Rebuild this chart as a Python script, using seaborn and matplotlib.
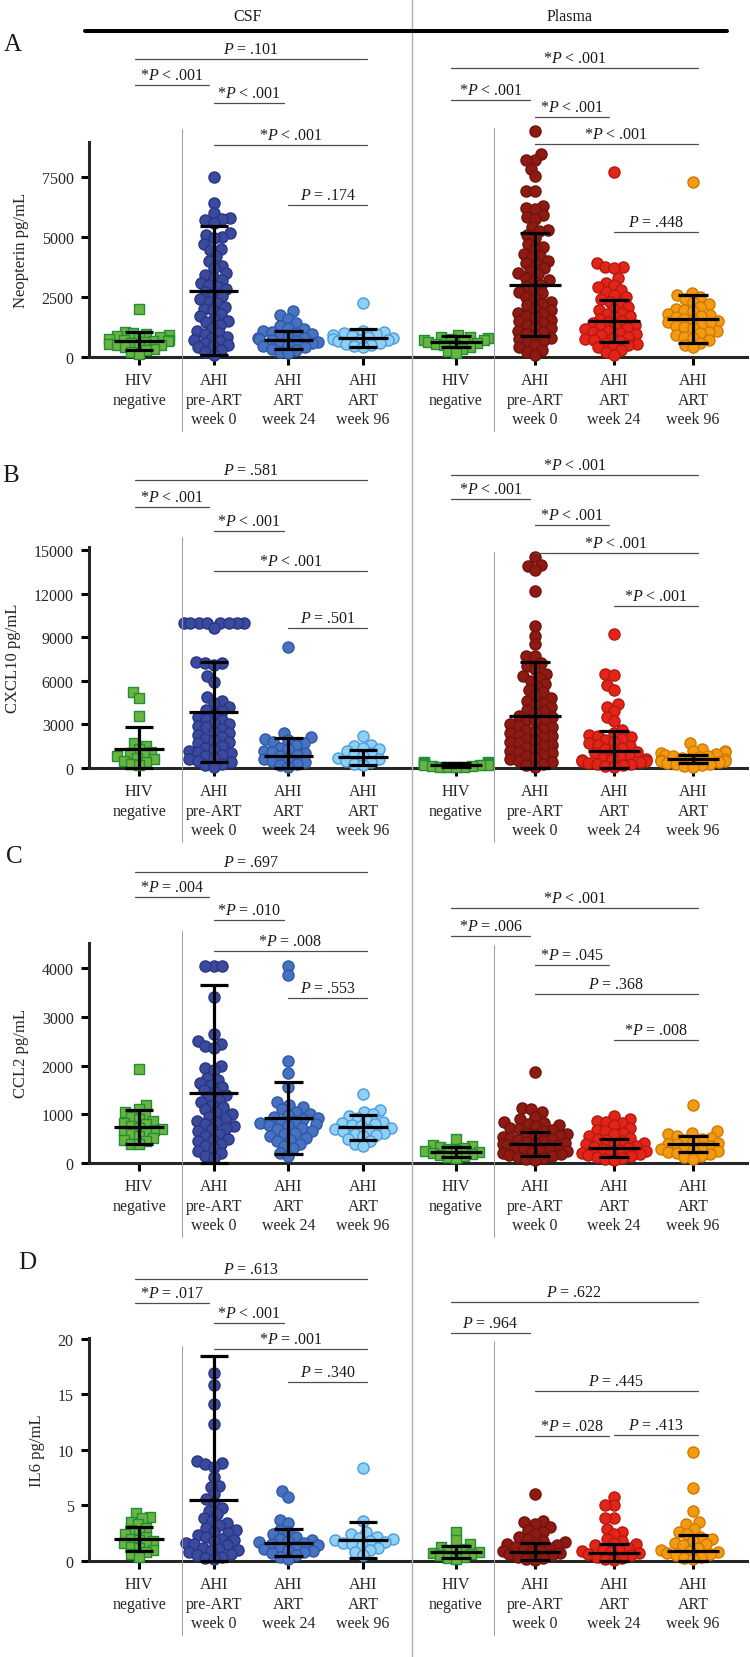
import numpy as np
import pandas as pd
import seaborn as sns
import matplotlib.pyplot as plt
from matplotlib import transforms
from matplotlib.lines import Line2D

# ---- categories / labels ----
cats = ["HIV\nnegative", "AHI\npre-ART\nweek 0", "AHI\nART\nweek 24", "AHI\nART\nweek 96"]
panels = ["CSF", "Plasma"]

# ---- A: Neopterin pg/mL ----
csf_neg_A = [2000, 1050, 1000, 950, 900, 870, 820, 800, 760, 720, 700, 680, 650, 620, 600, 560, 520, 480, 450, 400, 350, 300, 220, 120]
csf_pre_A = [7500, 6400, 6000, 5800, 5750, 5700, 5600, 5150, 5100, 5000, 4950, 4700, 4500, 4450, 4200, 4000, 3800, 3700, 3500,
             3400, 3300, 3200, 3100, 3000, 2900, 2850, 2700, 2600, 2550, 2400, 2300, 2250, 2100, 2000, 1950, 1800, 1700, 1600,
             1500, 1450, 1350, 1200, 1100, 1000, 950, 850, 800, 700, 650, 600, 500, 450, 400, 300, 200, 100]
csf_24_A = [1900, 1750, 1600, 1400, 1300, 1200, 1150, 1100, 1050, 1000, 950, 900, 850, 800, 780, 750, 700, 650, 620, 600,
            550, 500, 450, 400, 350, 300, 200, 150]
csf_96_A = [2250, 1100, 1050, 1000, 950, 900, 870, 820, 800, 760, 720, 700, 650, 600, 550, 500, 450, 400]
pla_neg_A = [900, 850, 820, 800, 760, 720, 700, 660, 640, 600, 560, 520, 480, 420, 350, 250, 150]
pla_pre_A = [9400, 8450, 8200, 8200, 7850, 7550, 6900, 6900, 6300, 6200, 6150, 5900, 5850, 5750, 5400, 5300, 5250, 5100,
             4950, 4700, 4600, 4500, 4300, 4200, 4150, 4000, 3900, 3850, 3700, 3600, 3500, 3450, 3300, 3200, 3150, 3000,
             2950, 2800, 2700, 2650, 2500, 2450, 2300, 2200, 2150, 2000, 1950, 1850, 1800, 1700, 1650, 1550, 1500, 1400,
             1350, 1250, 1200, 1100, 1050, 950, 900, 800, 750, 650, 600, 500, 400, 300, 200, 100]
pla_24_A = [7700, 3900, 3750, 3750, 3700, 3300, 3100, 3000, 2900, 2800, 2700, 2600, 2500, 2400, 2300, 2250, 2100, 2000,
            1950, 1850, 1800, 1700, 1650, 1600, 1500, 1450, 1400, 1350, 1300, 1250, 1200, 1150, 1100, 1050, 1000, 950,
            900, 850, 800, 750, 700, 650, 600, 550, 500, 450, 400, 300, 200, 100]
pla_96_A = [7300, 2650, 2600, 2500, 2400, 2300, 2200, 2100, 2000, 1950, 1900, 1800, 1750, 1700, 1650, 1600, 1550, 1500,
            1450, 1400, 1350, 1300, 1250, 1200, 1100, 1050, 1000, 900, 850, 800, 700, 600, 500, 400]
mean_csf_A = [670, 2770, 700, 790]
sd_csf_A = [370, 2690, 370, 380]
mean_pla_A = [640, 3020, 1500, 1580]
sd_pla_A = [220, 2150, 870, 1000]

# ---- B: CXCL10 pg/mL ----
csf_neg_B = [5200, 4850, 3600, 1700, 1500, 1300, 1100, 1000, 900, 800, 700, 600, 500, 400, 300, 200]
csf_pre_B = [10000, 10000, 10000, 10000, 10000, 10000, 10000, 10000, 9600, 7300, 7200, 7200, 7100, 6300, 5900, 4900,
             4600, 4500, 4200, 4000, 3900, 3700, 3500, 3400, 3300, 3100, 3000, 2900, 2800, 2700, 2500, 2400, 2300, 2100,
             2000, 1900, 1800, 1700, 1500, 1400, 1300, 1200, 1100, 1000, 900, 800, 700, 600, 500, 400, 300, 200, 100]
csf_24_B = [8300, 2400, 2100, 2000, 1900, 1800, 1700, 1600, 1400, 1300, 1200, 1100, 1000, 900, 800, 700, 600, 500, 400,
            300, 200, 100]
csf_96_B = [2200, 1600, 1500, 1400, 1300, 1200, 1000, 900, 800, 700, 600, 500, 400, 300, 200]
pla_neg_B = [420, 380, 350, 320, 300, 280, 250, 220, 200, 180, 150, 120, 100, 80, 60, 40]
pla_pre_B = [14500, 14000, 13900, 13600, 12200, 9800, 9100, 8500, 7700, 7700, 7200, 7000, 6800, 6500, 6300, 6200, 6000,
             5800, 5600, 5400, 5200, 5000, 4800, 4600, 4500, 4400, 4200, 4000, 3900, 3800, 3600, 3500, 3400, 3300, 3200,
             3000, 2900, 2800, 2700, 2600, 2500, 2400, 2300, 2200, 2100, 2000, 1900, 1800, 1700, 1600, 1500, 1400, 1300,
             1200, 1100, 1000, 900, 800, 700, 600, 500, 400, 300, 200, 100]
pla_24_B = [9200, 6450, 6400, 5700, 5400, 4400, 4200, 3900, 3500, 3200, 2600, 2400, 2300, 2200, 2100, 2000, 1900, 1800,
            1700, 1600, 1500, 1400, 1300, 1200, 1100, 1000, 900, 800, 700, 650, 600, 550, 500, 450, 400, 350, 300, 250,
            200, 150, 100]
pla_96_B = [1750, 1300, 1200, 1150, 1100, 1000, 950, 900, 850, 800, 750, 700, 650, 600, 550, 500, 450, 400, 350, 300,
            250, 200, 150, 100]
mean_csf_B = [1300, 3850, 830, 740]
sd_csf_B = [1520, 3440, 1230, 500]
mean_pla_B = [220, 3580, 1170, 620]
sd_pla_B = [120, 3700, 1380, 280]

# ---- C: CCL2 pg/mL ----
csf_neg_C = [1920, 1180, 1100, 1050, 1000, 950, 900, 870, 830, 800, 760, 720, 700, 680, 650, 620, 600, 560, 520, 480,
             450, 400, 380]
csf_pre_C = [4050, 4050, 4050, 3400, 2650, 2500, 2450, 2400, 2350, 2000, 1950, 1900, 1750, 1700, 1650, 1600, 1550, 1500,
             1450, 1400, 1350, 1300, 1250, 1200, 1150, 1100, 1050, 1000, 950, 900, 870, 850, 800, 750, 720, 700, 650,
             600, 550, 500, 480, 450, 400, 350, 300, 250, 200, 150, 100]
csf_24_C = [4050, 3850, 2100, 1850, 1550, 1250, 1200, 1150, 1100, 1050, 1000, 980, 950, 920, 900, 870, 850, 820, 800,
            780, 750, 720, 700, 650, 620, 600, 560, 520, 480, 450, 400, 350, 300, 200, 150]
csf_96_C = [1420, 1080, 1050, 1000, 960, 920, 880, 850, 820, 800, 780, 750, 720, 700, 680, 650, 620, 600, 580, 550,
            500, 450, 400, 350]
pla_neg_C = [500, 360, 340, 320, 300, 280, 260, 240, 220, 200, 180, 160, 140, 120, 100]
pla_pre_C = [1860, 1120, 1100, 1050, 950, 900, 850, 820, 800, 780, 750, 720, 700, 680, 650, 620, 600, 580, 560, 540,
             520, 500, 480, 460, 440, 420, 400, 380, 360, 340, 320, 300, 280, 260, 240, 220, 200, 180, 160, 140, 120,
             100, 80, 60]
pla_24_C = [960, 900, 860, 850, 820, 780, 720, 680, 650, 620, 600, 560, 520, 500, 480, 450, 420, 400, 380, 350, 330,
            300, 280, 260, 240, 220, 200, 180, 160, 140, 120, 100, 80, 60]
pla_96_C = [1200, 650, 620, 600, 560, 520, 500, 480, 450, 420, 400, 380, 350, 330, 300, 280, 260, 240, 220, 200, 180,
            150, 120, 80]
mean_csf_C = [730, 1430, 920, 730]
sd_csf_C = [350, 2230, 740, 260]
mean_pla_C = [230, 390, 310, 390]
sd_pla_C = [100, 250, 180, 160]

# ---- D: IL6 pg/mL ----
csf_neg_D = [4.3, 4.0, 3.9, 3.5, 3.3, 3.0, 2.8, 2.6, 2.4, 2.2, 2.0, 1.9, 1.8, 1.6, 1.5, 1.3, 1.2, 1.0, 0.8, 0.6, 0.4]
csf_pre_D = [16.9, 15.9, 14.1, 12.3, 9.0, 8.8, 8.7, 8.5, 7.6, 6.8, 6.7, 6.0, 5.6, 5.2, 4.8, 4.5, 4.2, 3.9, 3.6, 3.4,
             3.2, 3.0, 2.8, 2.6, 2.5, 2.3, 2.2, 2.0, 1.9, 1.8, 1.6, 1.5, 1.4, 1.2, 1.1, 1.0, 0.9, 0.8, 0.6, 0.5, 0.4,
             0.3, 0.2]
csf_24_D = [6.3, 5.8, 3.7, 3.4, 2.8, 2.6, 2.4, 2.2, 2.0, 1.9, 1.8, 1.7, 1.6, 1.5, 1.4, 1.3, 1.2, 1.1, 1.0, 0.9, 0.8,
            0.7, 0.5, 0.4, 0.2]
csf_96_D = [8.4, 3.6, 2.6, 2.4, 2.2, 2.1, 2.0, 1.9, 1.8, 1.7, 1.6, 1.5, 1.4, 1.2, 1.0, 0.8, 0.5]
pla_neg_D = [2.6, 1.9, 1.5, 1.3, 1.1, 1.0, 0.9, 0.8, 0.7, 0.6, 0.5, 0.4, 0.3, 0.2]
pla_pre_D = [6.0, 3.6, 3.5, 3.3, 3.1, 2.8, 2.6, 2.4, 2.2, 2.0, 1.8, 1.7, 1.6, 1.5, 1.4, 1.3, 1.2, 1.1, 1.0, 0.9, 0.8,
             0.7, 0.6, 0.5, 0.4, 0.3, 0.2, 0.1]
pla_24_D = [5.8, 5.0, 5.0, 3.9, 3.9, 2.9, 2.6, 2.4, 2.0, 1.8, 1.6, 1.5, 1.4, 1.2, 1.1, 1.0, 0.9, 0.8, 0.7, 0.6, 0.5,
            0.4, 0.3, 0.2, 0.1]
pla_96_D = [9.8, 6.6, 4.5, 3.5, 3.3, 2.9, 2.6, 2.4, 2.2, 2.0, 1.8, 1.6, 1.5, 1.4, 1.2, 1.0, 0.9, 0.8, 0.7, 0.6, 0.5,
            0.4, 0.3, 0.2]
mean_csf_D = [2.0, 5.5, 1.65, 1.9]
sd_csf_D = [1.1, 13.0, 1.2, 1.6]
mean_pla_D = [0.8, 0.85, 0.75, 0.9]
sd_pla_D = [0.55, 0.75, 0.8, 1.45]

# ---- P values (pair, label) ----
pv_csf_A = [(0, 3, "P = .101"), (0, 1, "*P < .001"), (1, 2, "*P < .001"), (1, 3, "*P < .001"), (2, 3, "P = .174")]
pv_pla_A = [(0, 3, "*P < .001"), (0, 1, "*P < .001"), (1, 2, "*P < .001"), (1, 3, "*P < .001"), (2, 3, "P = .448")]
pv_csf_B = [(0, 3, "P = .581"), (0, 1, "*P < .001"), (1, 2, "*P < .001"), (1, 3, "*P < .001"), (2, 3, "P = .501")]
pv_pla_B = [(0, 3, "*P < .001"), (0, 1, "*P < .001"), (1, 2, "*P < .001"), (1, 3, "*P < .001"), (2, 3, "*P < .001")]
pv_csf_C = [(0, 3, "P = .697"), (0, 1, "*P = .004"), (1, 2, "*P = .010"), (1, 3, "*P = .008"), (2, 3, "P = .553")]
pv_pla_C = [(0, 3, "*P < .001"), (0, 1, "*P = .006"), (1, 2, "*P = .045"), (1, 3, "P = .368"), (2, 3, "*P = .008")]
pv_csf_D = [(0, 3, "P = .613"), (0, 1, "*P = .017"), (1, 2, "*P < .001"), (1, 3, "*P = .001"), (2, 3, "P = .340")]
pv_pla_D = [(0, 3, "P = .622"), (0, 1, "P = .964"), (1, 3, "P = .445"), (1, 2, "*P = .028"), (2, 3, "P = .413")]

# ---- colours ----
fills = {"CSF": ["#6cb33f", "#3a4a9c", "#4672c0", "#8fd0f5"],
         "Plasma": ["#6cb33f", "#8e1a12", "#e32418", "#f39a10"]}
edges = {"CSF": ["#1f8f3a", "#2b3585", "#2f58a8", "#4a9be0"],
         "Plasma": ["#1f8f3a", "#6e140e", "#b51a10", "#d07a05"]}

rows = [
    dict(letter="A", ylabel="Neopterin pg/mL", ticks=[0, 2500, 5000, 7500],
         CSF=(csf_neg_A, csf_pre_A, csf_24_A, csf_96_A, mean_csf_A, sd_csf_A, pv_csf_A),
         Plasma=(pla_neg_A, pla_pre_A, pla_24_A, pla_96_A, mean_pla_A, sd_pla_A, pv_pla_A)),
    dict(letter="B", ylabel="CXCL10 pg/mL", ticks=[0, 3000, 6000, 9000, 12000, 15000],
         CSF=(csf_neg_B, csf_pre_B, csf_24_B, csf_96_B, mean_csf_B, sd_csf_B, pv_csf_B),
         Plasma=(pla_neg_B, pla_pre_B, pla_24_B, pla_96_B, mean_pla_B, sd_pla_B, pv_pla_B)),
    dict(letter="C", ylabel="CCL2 pg/mL", ticks=[0, 1000, 2000, 3000, 4000],
         CSF=(csf_neg_C, csf_pre_C, csf_24_C, csf_96_C, mean_csf_C, sd_csf_C, pv_csf_C),
         Plasma=(pla_neg_C, pla_pre_C, pla_24_C, pla_96_C, mean_pla_C, sd_pla_C, pv_pla_C)),
    dict(letter="D", ylabel="IL6 pg/mL", ticks=[0, 5, 10, 15, 20],
         CSF=(csf_neg_D, csf_pre_D, csf_24_D, csf_96_D, mean_csf_D, sd_csf_D, pv_csf_D),
         Plasma=(pla_neg_D, pla_pre_D, pla_24_D, pla_96_D, mean_pla_D, sd_pla_D, pv_pla_D)),
]

# ---- layout (pixels of the 750 x 1658 figure) ----
W, H = 750, 1658
row_px = [(143, 358, 8958), (548, 769, 15206), (944, 1164, 4513), (1339, 1562, 20.09)]  # top, bottom, y max
panel_x = {"CSF": (89, 412, (-0.670, 3.656)), "Plasma": (412, 747, (-0.557, 3.684))}
bracket_px = {"CSF": [[60, 86, 104, 146, 206], [481, 508, 532, 572, 629],
                      [873, 898, 921, 952, 999], [1280, 1304, 1324, 1350, 1383]],
              "Plasma": [[69, 101, 118, 145, 233], [476, 500, 526, 554, 607],
                         [909, 937, 966, 995, 1041], [1303, 1334, 1392, 1437, 1436]]}
divider_px = {"CSF": (182, [130, 538, 932, 1347]), "Plasma": (494, [129, 553, 946, 1342])}
letter_px = [(4, 45), (2, 476), (6, 857), (18, 1263)]
# marker sizes: (size used to pack the swarm, size drawn) -> points overlap like the original
SQ_SIZE = (4.5, 7.2)
DOT_SIZE = (5.0, 8.0)

sns.set_style("ticks")
plt.rcParams["font.family"] = ["Liberation Serif", "DejaVu Serif"]
plt.rcParams["mathtext.fontset"] = "custom"
plt.rcParams["mathtext.it"] = "Liberation Serif:italic"
plt.rcParams["mathtext.rm"] = "Liberation Serif"
plt.rcParams["text.color"] = "#1a1a1a"
FS = 11.5


def fx(px):
    return px / W


def fy(px):
    return 1 - px / H


fig = plt.figure(figsize=(W / 100, H / 100), dpi=100)
swarms = []

for r, row in enumerate(rows):
    top, bot, ymax = row_px[r]
    for panel in panels:
        x0, x1, xlim = panel_x[panel]
        ax = fig.add_axes([fx(x0), fy(bot), fx(x1 - x0), (bot - top) / H])
        ax.patch.set_alpha(0)
        neg, pre, w24, w96, means, sds, pvals = row[panel]
        for k, vals in enumerate([neg, pre, w24, w96]):
            pack, shown = SQ_SIZE if k == 0 else DOT_SIZE
            n_before = len(ax.collections)
            sns.swarmplot(x=[cats[k]] * len(vals), y=vals, order=cats, ax=ax,
                          marker="s" if k == 0 else "o", size=pack,
                          color=fills[panel][k], edgecolor=edges[panel][k], linewidth=1.0,
                          zorder=3, clip_on=False, warn_thresh=1)
            # seaborn may add empty collections for the unused levels; keep the filled one
            for coll in ax.collections[n_before:]:
                if len(coll.get_offsets()) > 0:
                    swarms.append((coll, shown))
            # mean +/- SD
            lo = max(means[k] - sds[k], 0)
            hi = means[k] + sds[k]
            ax.hlines(means[k], k - 0.33, k + 0.33, color="black", lw=2.3, zorder=5, clip_on=False)
            ax.vlines(k, lo, hi, color="black", lw=2.3, zorder=5, clip_on=False)
            ax.hlines([lo, hi], k - 0.19, k + 0.19, color="black", lw=2.3, zorder=5, clip_on=False)

        ax.set_xlim(*xlim)
        ax.set_ylim(0, ymax)
        ax.set_xticks(range(4))
        ax.set_xticklabels(cats, fontsize=FS, linespacing=1.3)
        ax.set_xlabel("")
        ax.tick_params(axis="x", length=6, width=2.2, pad=5, color="black")
        sns.despine(ax=ax)
        ax.spines["bottom"].set_linewidth(2.2)
        if panel == "CSF":
            ax.set_yticks(row["ticks"])
            ax.set_yticklabels([str(t) for t in row["ticks"]], fontsize=FS)
            ax.tick_params(axis="y", length=6, width=2.2, pad=5, color="black")
            ax.spines["left"].set_linewidth(2.2)
            ax.set_ylabel(row["ylabel"], fontsize=12, labelpad=9)
        else:
            ax.set_yticks([])
            ax.spines["left"].set_visible(False)
            ax.set_ylabel("")

        # significance brackets
        trans = transforms.blended_transform_factory(ax.transData, fig.transFigure)
        for (i, j, lab), ly in zip(pvals, bracket_px[panel][r]):
            bx0 = i - 0.06 if i == 0 else i
            bx1 = j + 0.06 if j == 3 else j - 0.06
            fig.add_artist(Line2D([bx0, bx1], [fy(ly), fy(ly)], transform=trans,
                                  color="#4d4d4d", lw=0.9))
            fig.text((bx0 + bx1) / 2, fy(ly - 10), lab.replace("P", "$P$"), transform=trans,
                     ha="center", va="center", fontsize=FS)

        # thin divider between HIV negative and AHI groups
        dx, dtops = divider_px[panel]
        fig.add_artist(Line2D([fx(dx)] * 2, [fy(dtops[r]), fy(bot + 74)], color="#9a9a9a", lw=0.7))

    lx, lyy = letter_px[r]
    fig.text(fx(lx), fy(lyy), row["letter"], fontsize=18, ha="left", va="center")

# header
fig.add_artist(Line2D([fx(412)] * 2, [0, 1], color="#b0b0b0", lw=1.0))
fig.add_artist(Line2D([fx(85), fx(727)], [fy(32)] * 2, color="black", lw=2.9, solid_capstyle="round"))
fig.text(fx(248), fy(17), "CSF", fontsize=FS, ha="center", va="center")
fig.text(fx(570), fy(17), "Plasma", fontsize=FS, ha="center", va="center")

# let seaborn lay out the swarms with the packing size, then freeze them and enlarge the markers
fig.canvas.draw()
for coll, shown in swarms:
    if "draw" in coll.__dict__:
        del coll.draw
    coll.set_sizes([shown ** 2])

fig.savefig("out.png", dpi=100, facecolor="white")
